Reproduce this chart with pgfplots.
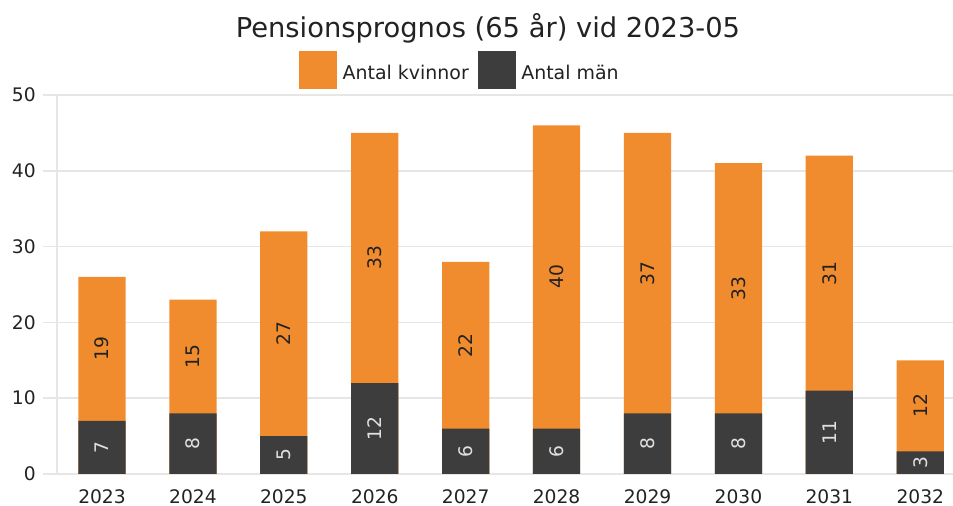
\documentclass[border=0pt]{standalone}
\usepackage{pgfplots}
\pgfplotsset{compat=1.18}
\usepackage{pgfplotstable}
\usepackage{fontspec}
\setmainfont{DejaVu Sans}
\definecolor{orng}{HTML}{F18C2E}
\definecolor{drk}{HTML}{3D3D3D}
\definecolor{gridc}{HTML}{E6E6E6}
\definecolor{txt}{HTML}{222222}
\pgfplotstableread{
x year m k
0 2023 7 19
1 2024 8 15
2 2025 5 27
3 2026 12 33
4 2027 6 22
5 2028 6 40
6 2029 8 37
7 2030 8 33
8 2031 11 31
9 2032 3 12
}\data
\begin{document}
\begin{tikzpicture}
\useasboundingbox (0,0) rectangle (714.75pt,379.5pt);
\begin{axis}[
  at={(42.75pt,24pt)}, anchor=south west,
  scale only axis, width=672pt, height=284.25pt,
  xmin=-0.495, xmax=9.36, ymin=0, ymax=50,
  xtick={0,...,9},
  xticklabels={2023,2024,2025,2026,2027,2028,2029,2030,2031,2032},
  ytick={0,10,...,50},
  /pgf/number format/assume math mode=true,
  ticklabel style={font=\fontsize{14}{16}\selectfont, text=txt},
  xticklabel style={inner sep=0pt, anchor=north, yshift=-0.75pt},
  yticklabel style={inner sep=0pt, anchor=east, xshift=-5.25pt},
  axis x line*=bottom, axis y line*=left,
  axis line style={-, draw=gridc, line width=1.2pt},
  ymajorgrids, major grid style={draw=gridc, line width=1.2pt},
  tick align=outside, major tick length=10.5pt,
  ytick style={draw=gridc, line width=1.2pt},
  xtick style={draw=none},
  bar width=0.52,
  title={Pensionsprognos (65 år) vid 2023-05},
  title style={at={(0.481,1)}, anchor=base, yshift=36.75pt, inner sep=0pt,
    font=\fontsize{20.5}{24}\selectfont, text=txt},
  legend style={at={(0.270,1)}, anchor=south west, yshift=4.5pt,
    draw=none, fill=none, inner sep=0pt, legend columns=2,
    font=\fontsize{14.2}{16}\selectfont, text=txt,
    nodes={inner sep=0pt},
    /tikz/every odd column/.append style={column sep=4.5pt},
    /tikz/every even column/.append style={column sep=6.75pt}},
]
\addlegendimage{legend image code/.code={\fill[orng] (0pt,-11.5pt) rectangle (27.75pt,16.25pt);}}
\addlegendentry{Antal kvinnor}
\addlegendimage{legend image code/.code={\fill[drk] (0pt,-11.5pt) rectangle (27.75pt,16.25pt);}}
\addlegendentry{Antal män}
\addplot[ybar, bar shift=0pt, fill=orng, draw=none, forget plot]
  table[x=x, y expr=\thisrow{m}+\thisrow{k}] {\data};
\addplot[ybar, bar shift=0pt, fill=drk, draw=none, forget plot]
  table[x=x, y=m] {\data};
\addplot[only marks, mark=none, forget plot, point meta=explicit,
  nodes near coords,
  nodes near coords style={anchor=center, rotate=90, inner sep=0pt,
    text=white!88!black, font=\fontsize{14}{16}\selectfont}]
  table[x=x, y expr=\thisrow{m}/2, meta=m] {\data};
\addplot[only marks, mark=none, forget plot, point meta=explicit,
  nodes near coords,
  nodes near coords style={anchor=center, rotate=90, inner sep=0pt,
    text=txt, font=\fontsize{14}{16}\selectfont}]
  table[x=x, y expr=\thisrow{m}+\thisrow{k}/2, meta=k] {\data};
\end{axis}
\end{tikzpicture}
\end{document}
